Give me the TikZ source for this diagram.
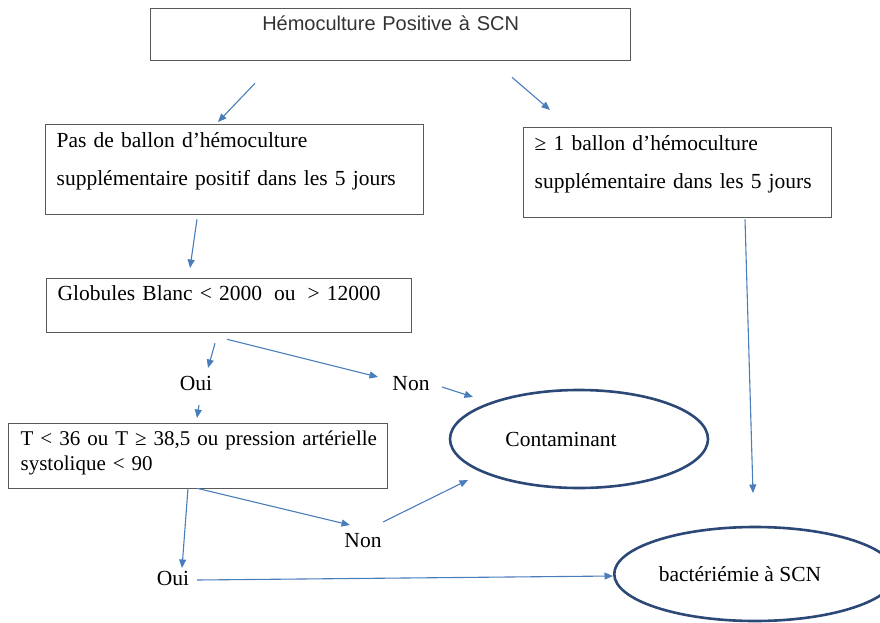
\documentclass[tikz,border=0pt]{standalone}
\usepackage{fontspec}
\setmainfont{Liberation Serif}
\setsansfont{Liberation Sans}
\usepackage{tikz}
\usetikzlibrary{shapes.geometric, arrows.meta}
\definecolor{bleu}{RGB}{74,126,187}
\definecolor{marine}{RGB}{44,72,118}
\definecolor{cadre}{gray}{0.35}
\tikzset{
boite/.style={draw=cadre, line width=1.3pt, anchor=north west, align=left, inner xsep=11pt, inner ysep=0pt, font=\fontsize{21.5}{38}\selectfont},
bulle/.style={ellipse, draw=marine, line width=2.6pt, font=\fontsize{21.5}{26}\selectfont},
etiquette/.style={anchor=base, font=\fontsize{21.5}{26}\selectfont},
fleche/.style={draw=bleu, line width=1.1pt, -{Triangle[length=8.5pt,width=7pt]}}
}
\begin{document}
\begin{tikzpicture}[x=1pt, y=-1pt]
\useasboundingbox (0,0) rectangle (880,623);
% boites
\node[boite, align=center, text width=458pt, text height=22pt, text depth=30pt, font=\sffamily\fontsize{20}{24}\selectfont, text=black!80] (hemo) at (150,8) {Hémoculture Positive à SCN};
\node[boite, text width=356pt, text height=23pt, text depth=67pt] (pasballon) at (45,124) {\mbox{Pas de ballon d’hémoculture}\\\mbox{supplémentaire positif dans les 5 jours}};
\node[boite, text width=286pt, text height=23pt, text depth=67pt] (unballon) at (523,127) {\mbox{≥ 1 ballon d’hémoculture}\\\mbox{supplémentaire dans les 5 jours}};
\node[boite, text width=343pt, text height=22pt, text depth=32pt] (globules) at (46,278) {\mbox{Globules Blanc < 2000\hspace{12pt}ou\hspace{12pt}> 12000}};
\node[boite, inner xsep=12pt, text width=355pt, text height=22pt, text depth=43pt, font=\fontsize{21}{25}\selectfont] (temp) at (8,423) {\mbox{T < 36 ou T ≥ 38,5 ou pression artérielle}\\\mbox{systolique < 90}};
% conclusions
\node[bulle, minimum width=258pt, minimum height=98pt] (contam) at (579,439) {Contaminant\hspace*{36pt}};
\node[bulle, minimum width=246pt, minimum height=94pt] (bact) at (755,574) {bactériémie à SCN\hspace*{30pt}};
% reponses
\node[etiquette] (oui1) at (196,390) {Oui};
\node[etiquette] (non1) at (411,390) {Non};
\node[etiquette] (oui2) at (173,585) {Oui};
\node[etiquette] (non2) at (363,547) {Non};
% fleches
\draw[fleche] ([shift={(105,22)}]hemo.south west) -- ([shift={(173,-2)}]pasballon.north west);
\draw[fleche] ([shift={(362,16)}]hemo.south west) -- ([shift={(27,-17)}]unballon.north west);
\draw[fleche] ([shift={(152,4)}]pasballon.south west) -- ([shift={(144,-10)}]globules.north west);
\draw[fleche] ([shift={(169,10)}]globules.south west) -- ([shift={(12,-22)}]oui1.base);
\draw[fleche] ([shift={(181,6)}]globules.south west) -- ([shift={(-33,-13)}]non1.base);
\draw[fleche] ([shift={(31,-3)}]non1.base) -- ([shift={(-106,-42)}]contam.center);
\draw[fleche] ([shift={(3,15)}]oui1.base) -- ([shift={(189,-5)}]temp.north west);
\draw[fleche] ([shift={(180,-1)}]temp.south west) -- ([shift={(9,-17)}]oui2.base);
\draw[fleche] ([shift={(189,-1)}]temp.south west) -- ([shift={(-13,-22)}]non2.base);
\draw[fleche] ([shift={(20,-25)}]non2.base) -- ([shift={(-111,41)}]contam.center);
\draw[fleche] ([shift={(24,-5)}]oui2.base) -- ([shift={(-142,2)}]bact.center);
\draw[fleche] ([shift={(222,1)}]unballon.south west) -- ([shift={(-2,-81)}]bact.center);
\end{tikzpicture}
\end{document}
